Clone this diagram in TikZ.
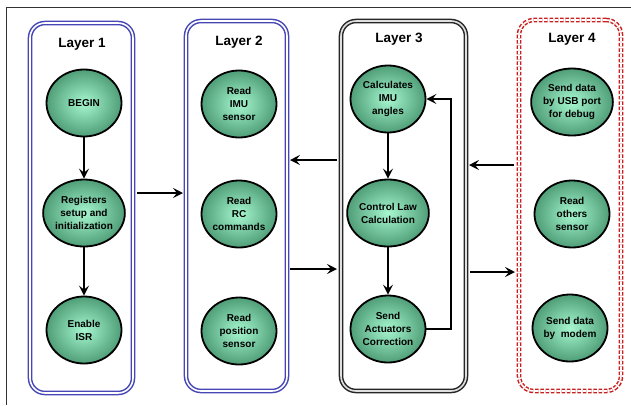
\documentclass[tikz,border=0pt]{standalone}
\usepackage{fontspec}
\setmainfont{Liberation Sans}
\usetikzlibrary{shapes.geometric,arrows.meta}
\definecolor{nodein}{HTML}{A6F7CF}
\definecolor{nodeout}{HTML}{4F9E78}
\definecolor{layerblue}{HTML}{4646B4}
\definecolor{layerred}{HTML}{C82020}
\begin{document}
\begin{tikzpicture}[x=1pt,y=-1pt,
  proc/.style={ellipse, draw=black, line width=1.8pt, minimum width=75pt,
    minimum height=67pt, inner sep=0pt, inner color=nodein, outer color=nodeout,
    align=center, font=\fontsize{10}{13}\selectfont\bfseries},
  layerbox/.style={rounded corners=15pt, line width=1.5pt, double distance=1.6pt,
    inner sep=0pt, outer sep=0pt},
  title/.style={font=\fontsize{13.5}{16}\selectfont\bfseries, anchor=base},
  arr/.style={line width=1.8pt, -{Stealth[length=10pt,width=10pt,inset=4pt]}},
]
\useasboundingbox (0,0) rectangle (631,405);

% outer frame
\draw[line width=1pt, black!80] (631,7) -- (6,7) -- (6,405);

% layer containers
\node[layerbox, draw=layerblue, double=white, minimum width=103pt, minimum height=370pt] (L1) at (81.5,208) {};
\node[layerbox, draw=layerblue, double=white, minimum width=101pt, minimum height=370pt] (L2) at (236.5,206) {};
\node[layerbox, draw=black!85, double=black!12, minimum width=125pt, minimum height=370pt] (L3) at (403.5,206) {};
\node[layerbox, draw=layerred, double=white, dash pattern=on 3.5pt off 1.8pt, minimum width=102pt, minimum height=371pt] (L4) at (570,205.5) {};

\node[title] (t1) at (82,47) {Layer 1};
\node[title] (t2) at (239,45) {Layer 2};
\node[title] (t3) at (399,42) {Layer 3};
\node[title] (t4) at (572,42) {Layer 4};

% layer 1
\node[proc] (b1) at (84,103) {BEGIN};
\node[proc] (r1) at (84,213) {Registers\\setup and\\initialization};
\node[proc] (e1) at (84,330) {Enable\\ISR};

% layer 2
\node[proc] (i2) at (239,104) {Read\\IMU\\sensor};
\node[proc] (c2) at (239,214) {Read\\RC\\commands};
\node[proc] (p2) at (239,331) {Read\\position\\sensor};

% layer 3
\node[proc] (a3) at (388,99) {Calculates\\IMU\\angles};
\node[proc] (l3) at (388,213) {Control Law\\Calculation};
\node[proc] (s3) at (388,329) {Send\\Actuators\\Correction};

% layer 4
\node[proc] (u4) at (572,102) {Send data\\by USB port\\for debug};
\node[proc] (o4) at (572,214) {Read\\others\\sensor};
\node[proc] (m4) at (570,328) {Send data\\by\ \ modem};

% flow inside layers
\draw[arr] (b1) -- (r1);
\draw[arr] (r1) -- (e1);
\draw[arr] (a3) -- (l3);
\draw[arr] (l3) -- (s3);
\coordinate (fb) at (451,0);
\draw[arr] (s3.east) -- (s3.east -| fb) -- (a3.east -| fb) -- (a3.east);

% flow between layers
\draw[arr, shorten <=4pt, shorten >=3pt] (L1.east |- 0,193) -- (L2.west |- 0,193);
\draw[arr, shorten <=4pt, shorten >=3pt] (L3.west |- 0,160) -- (L2.east |- 0,160);
\draw[arr, shorten <=3pt, shorten >=4pt] (L2.east |- 0,269) -- (L3.west |- 0,269);
\draw[arr, shorten <=5pt, shorten >=3pt] (L4.west |- 0,165) -- (L3.east |- 0,165);
\draw[arr, shorten <=4pt, shorten >=4pt] (L3.east |- 0,272) -- (L4.west |- 0,272);
\end{tikzpicture}
\end{document}
